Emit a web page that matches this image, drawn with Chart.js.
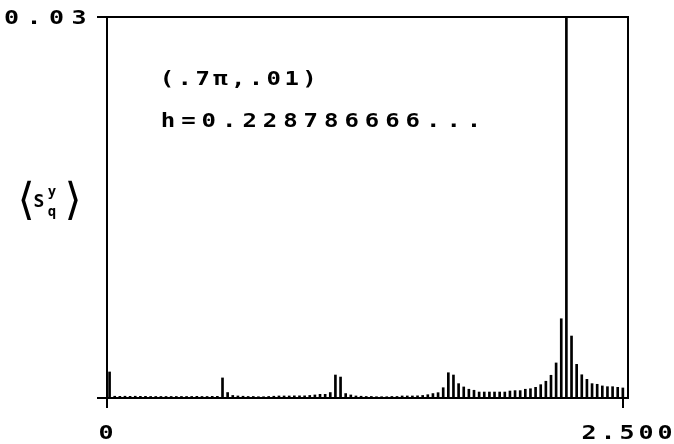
<!DOCTYPE html>
<html><head><meta charset="utf-8">
<script src="https://cdn.jsdelivr.net/npm/chart.js@4/dist/chart.umd.min.js"></script>
<style>html,body{margin:0;padding:0;background:#fff;}#wrap{width:674px;height:444px;}</style>
</head><body><div id="wrap"><canvas id="c" width="674" height="444"></canvas></div>
<script>
// q positions of the structure-factor bars
const qValues = [0.0125,0.0374,0.0623,0.0871,0.1120,0.1369,0.1618,0.1866,0.2115,0.2364,
0.2613,0.2861,0.3110,0.3359,0.3608,0.3856,0.4105,0.4354,0.4603,0.4851,
0.5100,0.5349,0.5598,0.5846,0.6095,0.6344,0.6593,0.6841,0.7090,0.7339,
0.7588,0.7836,0.8085,0.8334,0.8583,0.8831,0.9080,0.9329,0.9578,0.9826,
1.0075,1.0324,1.0573,1.0821,1.1070,1.1319,1.1568,1.1816,1.2065,1.2314,
1.2563,1.2811,1.3060,1.3309,1.3558,1.3806,1.4055,1.4304,1.4553,1.4801,
1.5050,1.5299,1.5548,1.5796,1.6045,1.6294,1.6543,1.6791,1.7040,1.7289,
1.7538,1.7786,1.8035,1.8284,1.8533,1.8781,1.9030,1.9279,1.9528,1.9776,
2.0025,2.0274,2.0523,2.0771,2.1020,2.1269,2.1518,2.1766,2.2015,2.2264,
2.2513,2.2761,2.3010,2.3259,2.3508,2.3756,2.4005,2.4254,2.4503,2.4751,2.5000];
// <S_q^y> values
const sValues = [0.00205,
0.00014,0.00013,0.00014,0.00013,0.00014,0.00013,0.00013,0.00012,0.00012,0.00012,
0.00012,0.00012,0.00012,0.00012,0.00012,0.00012,0.00013,0.00012,0.00012,0.00013,0.00013,
0.00158,0.00043,0.00020,0.00016,0.00014,0.00012,0.00012,0.00010,0.00010,
0.00012,0.00014,0.00016,0.00016,0.00016,0.00017,0.00017,0.00017,0.00020,0.00024,
0.00029,0.00029,0.00043,0.00181,0.00165,0.00035,0.00024,0.00016,0.00014,0.00012,
0.00012,0.00010,0.00010,0.00010,0.00012,0.00012,0.00016,0.00016,0.00016,0.00017,
0.00020,0.00026,0.00035,0.00042,0.00081,0.00199,0.00181,0.00113,0.00087,0.00069,
0.00061,0.00047,0.00047,0.00047,0.00047,0.00047,0.00047,0.00055,0.00058,0.00058,
0.00069,0.00073,0.00084,0.00105,0.00132,0.00179,0.00276,0.00624,0.03000,0.00488,
0.00265,0.00183,0.00147,0.00113,0.00108,0.00095,0.00089,0.00089,0.00084,0.00079];
const xTicks = [0, 2.5];
const yTicks = [0, 0.03];
const xTickLabels = ['0', '2.500'];
const yTopLabel = '0.03';
const noteLines = ['(.7π,.01)', 'h=0.228786666...'];

const FONT = "bold 20px 'DejaVu Sans Mono'";
function drawChars(ctx, text, cx0, pitch, cy, font, sx) {
  ctx.font = font;
  ctx.textAlign = 'center';
  ctx.textBaseline = 'alphabetic';
  [...text].forEach((ch, i) => {
    ctx.save();
    ctx.translate(cx0 + i * pitch, cy + 7.3);
    ctx.scale(sx, 1);
    ctx.fillText(ch, 0, 0);
    ctx.restore();
  });
}

const textPlugin = {
  id: 'texts',
  afterDraw(chart) {
    const ctx = chart.ctx;
    const xs = chart.scales.x, ys = chart.scales.y;
    ctx.save();
    ctx.fillStyle = '#000';
    drawChars(ctx, yTopLabel, 11.5, 22.5, ys.getPixelForValue(yTicks[1]), FONT, 1.25);
    drawChars(ctx, xTickLabels[0], xs.getPixelForValue(xTicks[0]) - 1, 19, 432, FONT, 1.25);
    drawChars(ctx, xTickLabels[1], 589, 19, 432, FONT, 1.25);
    drawChars(ctx, noteLines[0], 167, 17.8, 78, FONT, 1.2);
    drawChars(ctx, noteLines[1], 168, 20.4, 120, FONT, 1.2);
    ctx.textAlign = 'center';
    ctx.textBaseline = 'middle';
    ctx.font = "44px 'DejaVu Sans'";
    ctx.fillText('⟨', 26, 203);
    ctx.fillText('⟩', 73, 203);
    ctx.font = "bold 18px 'DejaVu Sans Mono'";
    ctx.fillText('S', 39, 202);
    ctx.font = "bold 14px 'DejaVu Sans Mono'";
    ctx.fillText('y', 52, 192);
    ctx.fillText('q', 52, 212);
    ctx.restore();
  }
};

function axisCommon() {
  return {
    offset: false,
    ticks: { display: false },
    grid: { offset: false, drawOnChartArea: false, drawTicks: true, tickLength: 10, color: '#000', lineWidth: 2 },
    border: { display: true, color: '#000', width: 2 }
  };
}

new Chart(document.getElementById('c'), {
  type: 'bar',
  data: {
    datasets: [{
      data: qValues.map((q, i) => ({ x: q, y: sValues[i] })),
      backgroundColor: '#000',
      borderWidth: 0,
      barThickness: 2,
      xAxisID: 'x', yAxisID: 'y'
    }]
  },
  options: {
    responsive: false,
    animation: false,
    devicePixelRatio: 1,
    layout: { padding: { top: 17, right: 46, left: 0, bottom: 0 } },
    plugins: { legend: { display: false }, tooltip: { enabled: false } },
    scales: {
      x: Object.assign(axisCommon(), { type: 'linear', position: 'bottom', min: 0, max: 2.525,
        afterBuildTicks: s => { s.ticks = xTicks.map(v => ({ value: v })); },
        afterFit: s => { s.height = 46; } }),
      y: Object.assign(axisCommon(), { type: 'linear', position: 'left', min: 0, max: 0.03,
        afterBuildTicks: s => { s.ticks = yTicks.map(v => ({ value: v })); },
        afterFit: s => { s.width = 107; } }),
      xTop: { type: 'linear', position: 'top', min: 0, max: 2.525, display: true, offset: false,
        ticks: { display: false }, grid: { display: false },
        border: { display: true, color: '#000', width: 2 },
        afterBuildTicks: s => { s.ticks = []; }, afterFit: s => { s.height = 0; } },
      yRight: { type: 'linear', position: 'right', min: 0, max: 0.03, display: true,
        ticks: { display: false }, grid: { display: false },
        border: { display: true, color: '#000', width: 2 },
        afterBuildTicks: s => { s.ticks = []; }, afterFit: s => { s.width = 0; } }
    }
  },
  plugins: [textPlugin]
});
</script></body></html>
